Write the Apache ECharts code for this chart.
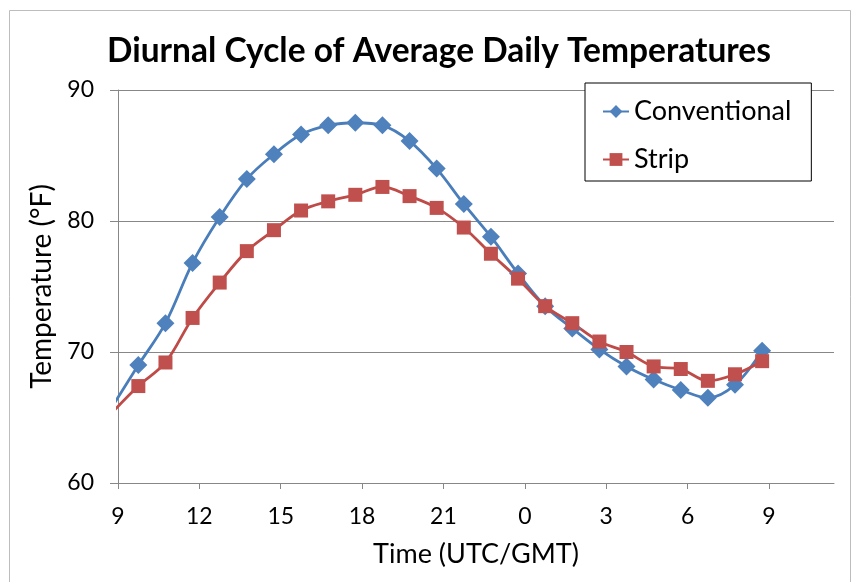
<!DOCTYPE html>
<html>
<head>
<meta charset="utf-8">
<script src="https://cdn.jsdelivr.net/npm/echarts@6/dist/echarts.min.js"></script>
<style>
  html, body { margin: 0; padding: 0; background: #fff; }
  #main { width: 853px; height: 582px; }
</style>
</head>
<body>
<div id="main"></div>
<script>
var chartDom = document.getElementById('main');
var myChart = echarts.init(chartDom);
var option;

// hour of observation (UTC), continuing past midnight; first one sits left of the axis and is clipped
const hours = [8.75, 9.75, 10.75, 11.75, 12.75, 13.75, 14.75, 15.75, 16.75, 17.75, 18.75, 19.75,
  20.75, 21.75, 22.75, 23.75, 24.75, 25.75, 26.75, 27.75, 28.75, 29.75, 30.75, 31.75, 32.75];
const conventional = [65.7, 69.0, 72.2, 76.8, 80.3, 83.2, 85.1, 86.6, 87.3, 87.5, 87.3, 86.1,
  84.0, 81.3, 78.8, 76.0, 73.5, 71.8, 70.2, 68.9, 67.9, 67.1, 66.5, 67.5, 70.1];
const strip = [65.3, 67.4, 69.2, 72.6, 75.3, 77.7, 79.3, 80.8, 81.5, 82.0, 82.6, 81.9,
  81.0, 79.5, 77.5, 75.6, 73.5, 72.2, 70.8, 70.0, 68.9, 68.7, 67.8, 68.3, 69.3];
const tickHours = [9, 12, 15, 18, 21, 24, 27, 30, 33];
const tickLabels = ['9', '12', '15', '18', '21', '0', '3', '6', '9'];

const FONT = 'Lato';
const AXIS_GRAY = '#878787';

function pairs(xs, ys) {
  return xs.map(function (x, i) { return [x, ys[i]]; });
}

option = {
  backgroundColor: '#fff',
  textStyle: { fontFamily: FONT, color: '#000' },
  animation: false,
  title: {
    text: 'Diurnal Cycle of Average Daily Temperatures',
    left: 102,
    top: 29,
    textStyle: { fontFamily: FONT, fontWeight: 'bold', fontSize: 33.5, color: '#000' }
  },
  legend: {
    orient: 'vertical',
    left: 585,
    top: 83,
    padding: [15, 20, 8, 17],
    itemGap: 21,
    itemWidth: 26,
    itemHeight: 16,
    backgroundColor: '#fff',
    borderColor: '#000',
    borderWidth: 1,
    borderRadius: 0,
    textStyle: { fontFamily: FONT, fontSize: 27, color: '#000' },
    data: ['Conventional', 'Strip']
  },
  grid: {
    left: 118,
    right: 19,
    top: 90,
    bottom: 99,
    containLabel: false
  },
  xAxis: {
    type: 'value',
    min: 9,
    max: 35.4,
    name: 'Time (UTC/GMT)',
    nameLocation: 'middle',
    nameGap: 58,
    nameTextStyle: { fontFamily: FONT, fontSize: 27, color: '#000' },
    axisLine: { show: true, lineStyle: { color: AXIS_GRAY, width: 1 } },
    axisTick: { show: true, inside: false, length: 6, customValues: tickHours, lineStyle: { color: AXIS_GRAY } },
    axisLabel: {
      customValues: tickHours,
      margin: 22,
      fontFamily: FONT,
      fontSize: 23,
      color: '#000',
      formatter: function (v) {
        var i = tickHours.indexOf(v);
        return i >= 0 ? tickLabels[i] : '';
      }
    },
    splitLine: { show: false }
  },
  yAxis: {
    type: 'value',
    min: 60,
    max: 90,
    interval: 10,
    name: 'Temperature (°F)',
    nameLocation: 'middle',
    nameGap: 54,
    nameRotate: 90,
    nameTextStyle: { fontFamily: FONT, fontSize: 28, color: '#000' },
    axisLine: { show: true, lineStyle: { color: AXIS_GRAY, width: 1 } },
    axisTick: { show: true, inside: false, length: 8, lineStyle: { color: AXIS_GRAY } },
    axisLabel: { margin: 24, fontFamily: FONT, fontSize: 23, color: '#000' },
    splitLine: { show: true, lineStyle: { color: AXIS_GRAY, width: 1 } }
  },
  graphic: [
    {
      type: 'rect',
      silent: true,
      z: -10,
      shape: { x: 9.5, y: 10.5, width: 841, height: 620 },
      style: { fill: 'none', stroke: '#bdbdbd', lineWidth: 1 }
    }
  ],
  series: [
    {
      name: 'Conventional',
      type: 'line',
      data: pairs(hours, conventional),
      smooth: 0.35,
      clip: true,
      symbol: 'diamond',
      symbolSize: 18,
      showAllSymbol: true,
      itemStyle: { color: '#4F81BD' },
      lineStyle: { color: '#4A7EBB', width: 2.8 }
    },
    {
      name: 'Strip',
      type: 'line',
      data: pairs(hours, strip),
      smooth: 0.35,
      clip: true,
      symbol: 'rect',
      symbolSize: 14,
      showAllSymbol: true,
      itemStyle: { color: '#C0504D' },
      lineStyle: { color: '#BE4B48', width: 2.8 }
    }
  ]
};

option && myChart.setOption(option);
</script>
</body>
</html>
